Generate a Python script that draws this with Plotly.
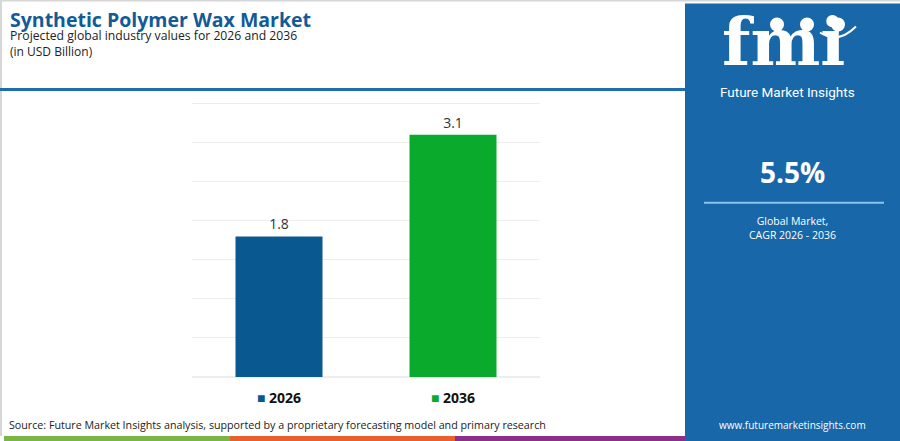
import plotly.graph_objects as go

categories = ["2026", "2036"]
values = [1.8, 3.1]
bar_colors = ["#0a5890", "#0aab2d"]
value_labels = ["1.8", "3.1"]

title = "Synthetic Polymer Wax Market"
subtitle1 = "Projected global industry values for 2026 and 2036"
subtitle2 = "(in USD Billion)"
source = "Source: Future Market Insights analysis, supported by a proprietary forecasting model and primary research"
cagr = "5.5%"
cagr_lines = "Global Market,<br>CAGR 2026 - 2036"
brand = "Future Market Insights"
website = "www.futuremarketinsights.com"

W, H = 900, 441
L, R, T, B = 192, 360, 102.4, 64
PW, PH = W - L - R, H - T - B

def px(x):
    return (x - L) / PW

def py(y):
    return (H - B - y) / PH

FONT = "Open Sans"
PANEL = "#1767a9"

ticktext = [
    f"<span style='color:{c}; font-size:14px'>■</span> <b>{cat}</b>"
    for c, cat in zip(bar_colors, categories)
]

fig = go.Figure(
    go.Bar(
        x=categories,
        y=values,
        marker=dict(color=bar_colors, line=dict(width=0)),
        text=value_labels,
        textposition="outside",
        textfont=dict(family=FONT, size=14, color="#333333"),
        cliponaxis=False,
        width=0.5,
    )
)

shapes = []
# top / left gray border
shapes.append(dict(type="line", xref="paper", yref="paper", x0=px(0), x1=px(900), y0=py(1), y1=py(1),
                   line=dict(color="#d6d6d6", width=2), layer="below"))
shapes.append(dict(type="line", xref="paper", yref="paper", x0=px(1), x1=px(1), y0=py(0), y1=py(436),
                   line=dict(color="#d6d6d6", width=2), layer="below"))
# header blue rule
shapes.append(dict(type="line", xref="paper", yref="paper", x0=px(0), x1=px(686), y0=py(90), y1=py(90),
                   line=dict(color="#1f6cae", width=3), layer="below"))
# right panel
shapes.append(dict(type="rect", xref="paper", yref="paper", x0=px(685), x1=px(905), y0=py(4), y1=py(445),
                   fillcolor=PANEL, line=dict(width=0), layer="below"))
# bottom colour stripe
for x0, x1, c in [(4, 230, "#79b646"), (230, 455, "#e8612c"), (455, 685, "#8a2f8c")]:
    shapes.append(dict(type="rect", xref="paper", yref="paper", x0=px(x0), x1=px(x1), y0=py(445), y1=py(436),
                       fillcolor=c, line=dict(width=0), layer="below"))
# divider in panel
shapes.append(dict(type="line", xref="paper", yref="paper", x0=px(704), x1=px(884), y0=py(203), y1=py(203),
                   line=dict(color="#8cc3ec", width=2)))
# logo globes
for cx in [777, 807, 838]:
    shapes.append(dict(type="circle", xref="paper", yref="paper", x0=px(cx - 7), x1=px(cx + 7),
                       y0=py(32), y1=py(18), fillcolor="white", line=dict(width=0)))
# smile arc under globes
shapes.append(dict(type="path", xref="paper", yref="paper",
                   path=f"M {px(820)},{py(33)} Q {px(838)},{py(45)} {px(856)},{py(27)}",
                   line=dict(color="white", width=2)))

annotations = []
def ann(text, x, y, size, color, bold=False, xanchor="left", family=FONT, yanchor="middle"):
    t = f"<b>{text}</b>" if bold else text
    annotations.append(dict(text=t, x=px(x), y=py(y), xref="paper", yref="paper", showarrow=False,
                            xanchor=xanchor, yanchor=yanchor, font=dict(family=family, size=size, color=color)))

ann(title, 8, 20, 19.5, "#125b97", bold=True)
ann(subtitle1, 8, 36, 12.2, "#222222")
ann(subtitle2, 8, 52, 12, "#222222")
ann(source, 7, 425, 10.7, "#222222")
ann("fmi", 783, 83, 66, "white", bold=True, xanchor="center", family="DejaVu Serif", yanchor="bottom")
ann(brand, 787, 92, 13.5, "white", xanchor="center", family="Roboto")
ann(cagr, 792, 172, 28, "white", bold=True, xanchor="center")
ann(cagr_lines, 792, 228, 10.5, "white", xanchor="center")
ann(website, 792, 425, 10, "white", xanchor="center")

fig.update_layout(
    width=W, height=H,
    margin=dict(l=L, r=R, t=T, b=B, pad=0),
    paper_bgcolor="white", plot_bgcolor="white",
    showlegend=False,
    bargap=0.5,
    shapes=shapes,
    annotations=annotations,
    font=dict(family=FONT),
    xaxis=dict(tickmode="array", tickvals=categories, ticktext=ticktext,
               tickfont=dict(family=FONT, size=14, color="#111111"),
               ticks="outside", ticklen=8, tickcolor="rgba(0,0,0,0)",
               showline=False, showgrid=False, fixedrange=True),
    yaxis=dict(range=[0, 3.52], tickvals=[0, 0.5, 1, 1.5, 2, 2.5, 3, 3.5], showticklabels=False, showgrid=True,
               gridcolor="#ededed", gridwidth=1, zeroline=True, zerolinecolor="#ededed",
               showline=False, fixedrange=True),
)

fig.write_html("out.html", config={"displayModeBar": False},
               post_script="document.body.style.margin='0';document.body.style.padding='0';")
